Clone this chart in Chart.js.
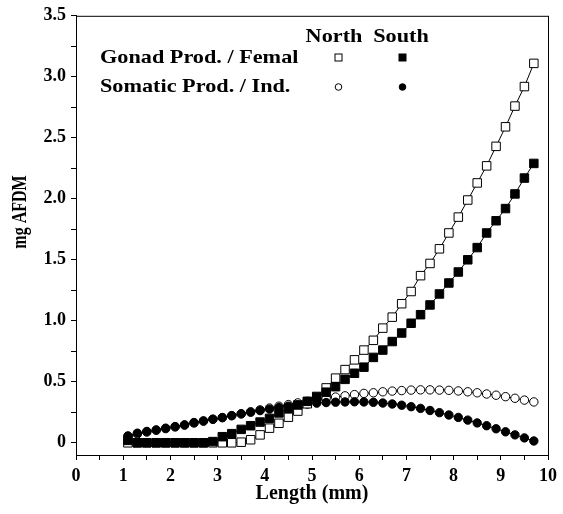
<!DOCTYPE html>
<html>
<head>
<meta charset="utf-8">
<script src="https://cdn.jsdelivr.net/npm/chart.js@4"></script>
<style>
  body { margin: 0; background: #fff; }
  #wrap { width: 563px; height: 514px; }
</style>
</head>
<body>
<div id="wrap"><canvas id="chart" width="563" height="514"></canvas></div>
<script>
// shell length (mm)
const lengths = [1.1, 1.3, 1.5, 1.7, 1.9, 2.1, 2.3, 2.5, 2.7, 2.9, 3.1, 3.3, 3.5, 3.7, 3.9,
  4.1, 4.3, 4.5, 4.7, 4.9, 5.1, 5.3, 5.5, 5.7, 5.9, 6.1, 6.3, 6.5, 6.7, 6.9, 7.1, 7.3,
  7.5, 7.7, 7.9, 8.1, 8.3, 8.5, 8.7, 8.9, 9.1, 9.3, 9.5, 9.7];

// gonad production per female (mg AFDM)
const gonadNorth = [0, 0, 0, 0, 0, 0, 0, 0, 0, 0, 0, 0, 0.005, 0.025, 0.065,
  0.12, 0.16, 0.21, 0.26, 0.32, 0.38, 0.45, 0.53, 0.60, 0.68, 0.76, 0.84, 0.94, 1.03, 1.14, 1.24, 1.37,
  1.47, 1.59, 1.72, 1.85, 1.99, 2.13, 2.27, 2.43, 2.59, 2.76, 2.92, 3.11];
const gonadSouth = [0.02, 0, 0, 0, 0, 0, 0, 0, 0, 0.01, 0.05, 0.075, 0.11, 0.14, 0.17,
  0.20, 0.245, 0.28, 0.31, 0.34, 0.375, 0.415, 0.46, 0.52, 0.57, 0.62, 0.70, 0.76, 0.83, 0.90, 0.98, 1.05,
  1.13, 1.22, 1.31, 1.40, 1.50, 1.60, 1.72, 1.82, 1.92, 2.04, 2.17, 2.29];

// somatic production per individual (mg AFDM)
const somaticNorth = [0.05, 0.072, 0.088, 0.102, 0.116, 0.13, 0.145, 0.162, 0.177, 0.192, 0.206, 0.222, 0.238, 0.254, 0.27,
  0.285, 0.30, 0.313, 0.327, 0.34, 0.355, 0.365, 0.375, 0.385, 0.395, 0.405, 0.41, 0.418, 0.424, 0.428, 0.432, 0.434,
  0.434, 0.432, 0.43, 0.425, 0.418, 0.41, 0.40, 0.39, 0.378, 0.365, 0.35, 0.335];
const somaticSouth = [0.057, 0.079, 0.093, 0.106, 0.12, 0.133, 0.147, 0.166, 0.18, 0.194, 0.207, 0.223, 0.237, 0.251, 0.264,
  0.276, 0.289, 0.30, 0.31, 0.318, 0.325, 0.33, 0.333, 0.335, 0.336, 0.335, 0.332, 0.326, 0.318, 0.308, 0.296, 0.282,
  0.265, 0.247, 0.228, 0.208, 0.186, 0.163, 0.14, 0.115, 0.09, 0.065, 0.04, 0.015];

const serif = '"Liberation Serif", "DejaVu Serif", serif';

function pts(ys) {
  return lengths.map((x, i) => ({ x: x, y: ys[i] }));
}

function series(ys, style, filled, r) {
  return {
    data: pts(ys),
    pointStyle: style,
    pointRadius: r,
    pointBorderWidth: 1,
    pointBorderColor: '#000',
    pointBackgroundColor: filled ? '#000' : '#fff',
    borderColor: '#000',
    borderWidth: 1,
    showLine: true,
    tension: 0
  };
}

// box round the plot, y title and the hand-made key in the top left
const boxAndKey = {
  id: 'boxAndKey',
  afterDraw(chart) {
    const ctx = chart.ctx;
    const a = chart.chartArea;
    ctx.save();
    ctx.strokeStyle = '#000';
    ctx.lineWidth = 1;
    ctx.strokeRect(a.left + 0.5, a.top + 0.5, a.right - a.left, a.bottom - a.top);

    ctx.fillStyle = '#000';
    ctx.textBaseline = 'middle';

    // y title, squeezed along its length like the scan
    ctx.save();
    ctx.translate(21, 212);
    ctx.rotate(-Math.PI / 2);
    ctx.scale(0.8, 1);
    ctx.textAlign = 'center';
    ctx.font = 'bold 20px ' + serif;
    ctx.fillText('mg AFDM', 0, 0);
    ctx.restore();

    // key text, stretched sideways a little
    const sx = 1.17;
    function txt(s, x, y, align) {
      ctx.save();
      ctx.translate(x, y);
      ctx.scale(sx, 1);
      ctx.textAlign = align;
      ctx.font = 'bold 19px ' + serif;
      ctx.fillText(s, 0, 0);
      ctx.restore();
    }
    txt('North', 334, 37, 'center');
    txt('South', 401, 37, 'center');
    txt('Gonad Prod. / Femal', 100, 58, 'left');
    txt('Somatic Prod. / Ind.', 100, 87, 'left');

    function sq(x, y, filled) {
      ctx.fillStyle = filled ? '#000' : '#fff';
      ctx.fillRect(x - 3.5, y - 3.5, 7, 7);
      ctx.strokeRect(x - 3.5, y - 3.5, 7, 7);
    }
    function dot(x, y, filled) {
      ctx.beginPath();
      ctx.arc(x, y, 3.3, 0, Math.PI * 2);
      ctx.fillStyle = filled ? '#000' : '#fff';
      ctx.fill();
      ctx.stroke();
    }
    sq(338.5, 57.5, false);
    sq(402.5, 57.5, true);
    dot(338.5, 87, false);
    dot(402.5, 87, true);
    ctx.restore();
  }
};

// first dataset ends up on top
new Chart(document.getElementById('chart'), {
  type: 'scatter',
  data: {
    datasets: [
      series(gonadSouth, 'rect', true, 6),
      series(gonadNorth, 'rect', false, 6),
      series(somaticSouth, 'circle', true, 4.2),
      series(somaticNorth, 'circle', false, 4.2)
    ]
  },
  options: {
    responsive: false,
    animation: false,
    layout: { padding: { top: 14, right: 15, left: 0, bottom: 0 } },
    plugins: { legend: { display: false }, tooltip: { enabled: false } },
    scales: {
      x: {
        type: 'linear',
        min: 0,
        max: 10,
        afterFit: s => { s.height = 59; },
        border: { color: '#000', width: 1 },
        grid: { drawOnChartArea: false, color: '#000', tickLength: 5 },
        ticks: {
          stepSize: 0.5,
          color: '#000',
          padding: 6,
          maxRotation: 0,
          autoSkip: false,
          font: { family: serif, size: 18, weight: 'bold' },
          callback: v => (Math.round(v * 2) % 2 === 0 ? String(Math.round(v)) : '')
        },
        title: {
          display: true,
          text: 'Length (mm)',
          color: '#000',
          padding: { top: 0, bottom: 8 },
          font: { family: serif, size: 20, weight: 'bold' }
        }
      },
      y: {
        min: -0.1,
        max: 3.5,
        afterFit: s => { s.width = 76; },
        border: { color: '#000', width: 1 },
        grid: { drawOnChartArea: false, color: '#000', tickLength: 5 },
        ticks: {
          stepSize: 0.25,
          includeBounds: false,
          color: '#000',
          padding: 5,
          autoSkip: false,
          font: { family: serif, size: 18, weight: 'bold' },
          callback: v => {
            const q = Math.round(v * 4);
            if (q % 2 !== 0) return '';
            return q === 0 ? '0' : (q / 4).toFixed(1);
          }
        }
      }
    }
  },
  plugins: [boxAndKey]
});
</script>
</body>
</html>
